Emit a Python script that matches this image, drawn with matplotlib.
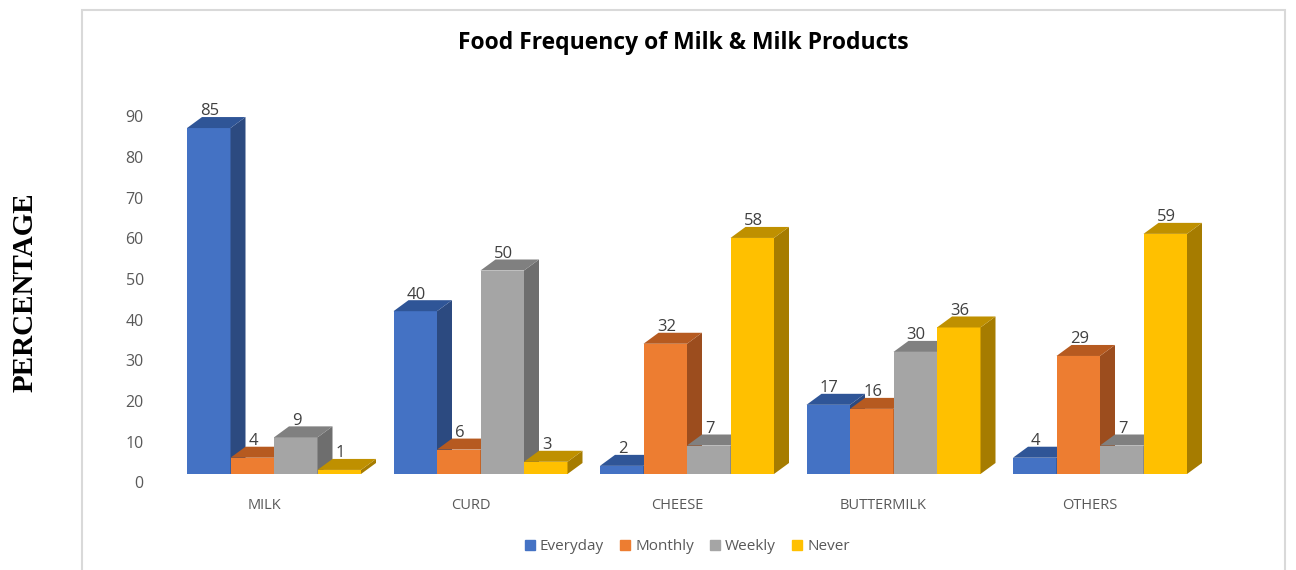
import matplotlib.pyplot as plt
from matplotlib.patches import Polygon, Rectangle
from matplotlib.lines import Line2D
from matplotlib.transforms import ScaledTranslation
import numpy as np

# chart data
categories = ['MILK', 'CURD', 'CHEESE', 'BUTTERMILK', 'OTHERS']
series_names = ['Everyday', 'Monthly', 'Weekly', 'Never']
everyday = [85, 40, 2, 17, 4]
monthly = [4, 6, 32, 16, 29]
weekly = [9, 50, 7, 30, 7]
never = [1, 3, 58, 36, 59]
y_ticks = [0, 10, 20, 30, 40, 50, 60, 70, 80, 90]

# front, top, side colours for each series
FRONT = ['#4472C4', '#ED7D31', '#A5A5A5', '#FFC000']
TOP = ['#2F5597', '#B65A20', '#808080', '#BF9000']
SIDE = ['#2C4A80', '#9C4D1E', '#6E6E6E', '#A67C00']

W, H = 1296, 570
fig = plt.figure(figsize=(W / 100, H / 100), dpi=100)

# axes placed in pixels: category spacing 206.5 px, 4.07 px per percent
PX_CAT = 206.5
PX_UNIT = 4.07
X0 = 274 - 0.55 * PX_CAT
Y_BASE = 474
YMAX = 92
ax = fig.add_axes([X0 / W, (H - Y_BASE) / H, 5.1 * PX_CAT / W, YMAX * PX_UNIT / H])
ax.set_xlim(-0.55, 4.55)
ax.set_ylim(0, YMAX)

bw = 43.5 / PX_CAT
ddx = 15 / PX_CAT
ddy = 11 / PX_UNIT

x = np.arange(len(categories))
data = [everyday, monthly, weekly, never]

for i in range(len(categories)):
    for j, vals in enumerate(data):
        v = vals[i]
        left = x[i] + (j - 2) * bw
        right = left + bw
        z = 2 + i * 10 + j
        ax.bar(left, v, width=bw, align='edge', color=FRONT[j], zorder=z)
        side = Polygon([(right, 0), (right + ddx, ddy), (right + ddx, v + ddy), (right, v)],
                       closed=True, fc=SIDE[j], ec='none', zorder=z)
        top = Polygon([(left, v), (right, v), (right + ddx, v + ddy), (left + ddx, v + ddy)],
                      closed=True, fc=TOP[j], ec='none', zorder=z)
        ax.add_patch(side)
        ax.add_patch(top)
        ax.text(left + bw / 2 + 1 / PX_CAT, v + ddy - 0.6, str(v), ha='center', va='bottom',
                fontsize=12, color='#404040', family='Open Sans', zorder=100)

for s in ax.spines.values():
    s.set_visible(False)

ax.set_yticks(y_ticks)
ax.set_xticks(x - 10 / PX_CAT)
ax.set_xticklabels(categories)
ax.tick_params(length=0)
ax.tick_params(axis='y', pad=12, labelsize=11.5, labelcolor='#595959')
ax.tick_params(axis='x', pad=17, labelsize=10.5, labelcolor='#595959')
for lab in ax.get_yticklabels():
    lab.set_family('Open Sans')
    lab.set_transform(lab.get_transform() + ScaledTranslation(0, -8.5 / 100, fig.dpi_scale_trans))
for lab in ax.get_xticklabels():
    lab.set_family('Open Sans')

# title and axis label
fig.text(683 / W, 1 - 43 / H, 'Food Frequency of Milk & Milk Products', ha='center', va='center',
         fontsize=16.5, fontweight='bold', family='Open Sans', color='black')
fig.text(25 / W, 1 - 292 / H, 'PERCENTAGE', rotation=90, ha='center', va='center',
         fontsize=21, fontweight='bold', family='Liberation Serif')

# legend
handles = [Line2D([], [], marker='s', ls='none', markersize=7, color=c) for c in FRONT]
fig.legend(handles, series_names, loc='center', bbox_to_anchor=(686 / W, 1 - 547 / H), ncol=4,
           frameon=False, handletextpad=0.15, columnspacing=0.9, handlelength=1.0,
           prop={'family': 'Open Sans', 'size': 11}, labelcolor='#595959')

# chart frame
fig.patches.append(Rectangle((82 / W, -0.1), (1285 - 82) / W, 1.1 - 10 / H, transform=fig.transFigure,
                             fill=False, ec='#D9D9D9', lw=1.5))

fig.savefig('out.png', dpi=100)
